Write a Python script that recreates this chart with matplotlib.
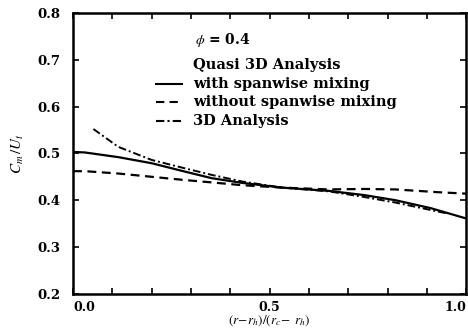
import numpy as np
import matplotlib
matplotlib.use("Agg")
import matplotlib.pyplot as plt
from matplotlib.ticker import MultipleLocator

plt.rcParams['font.family'] = ['DejaVu Serif']
plt.rcParams['mathtext.fontset'] = 'stix'

# with spanwise mixing (solid)
x_with = [0.0, 0.03, 0.115, 0.20, 0.285, 0.353, 0.43, 0.53, 0.65, 0.74, 0.82, 0.91, 1.0]
y_with = [0.503, 0.502, 0.492, 0.479, 0.461, 0.447, 0.437, 0.427, 0.420, 0.411, 0.400, 0.383, 0.361]

# without spanwise mixing (dashed)
x_without = [0.0, 0.03, 0.115, 0.20, 0.285, 0.353, 0.43, 0.53, 0.65, 0.74, 0.82, 0.93, 1.0]
y_without = [0.462, 0.462, 0.457, 0.450, 0.443, 0.438, 0.432, 0.427, 0.423, 0.424, 0.423, 0.417, 0.414]

# 3D analysis (dash-dot)
x_3d = [0.052, 0.115, 0.20, 0.285, 0.353, 0.43, 0.53, 0.65, 0.74, 0.82, 0.91, 0.95]
y_3d = [0.552, 0.514, 0.486, 0.468, 0.454, 0.440, 0.427, 0.419, 0.407, 0.395, 0.379, 0.372]

fig = plt.figure(figsize=(4.68, 3.32), dpi=100)
ax = fig.add_axes([0.156, 0.115, 0.84, 0.846])

ax.plot(x_with, y_with, color='black', lw=1.6, ls='-')
ax.plot(x_without, y_without, color='black', lw=1.6, ls=(0, (4, 2.5)))
ax.plot(x_3d, y_3d, color='black', lw=1.4, ls=(0, (4, 1.5, 1, 1.5)))

ax.set_xlim(0, 1.0)
ax.set_ylim(0.2, 0.8)
ax.xaxis.set_minor_locator(MultipleLocator(0.1))
ax.tick_params(which='both', direction='in', top=True, right=True, width=1.2, length=4)
ax.tick_params(axis='x', labelsize=9, pad=5)
ax.tick_params(axis='y', labelsize=9.5, pad=9)
ax.set_xticks([0.0, 0.5, 1.0])
ax.set_xticklabels(['0.0', '0.5', '1.0'], fontweight='bold')
ax.set_yticks(np.arange(0.2, 0.81, 0.1))
ax.set_yticklabels(['0.2', '0.3', '0.4', '0.5', '0.6', '0.7', '0.8'], fontweight='bold')
labels = ax.get_xticklabels()
labels[0].set_ha('left')
labels[2].set_ha('right')
for s in ax.spines.values():
    s.set_linewidth(1.8)

ax.set_xlabel(r'$(r\!-\!r_h)/(r_c\!-\;r_h)$', fontsize=9.5, labelpad=0)
ax.set_ylabel(r'$C_m\,/U_t$', fontsize=11, labelpad=8)

ax.text(0.31, 0.742, r'$\phi$ = 0.4', fontsize=10, fontweight='bold', va='center')
ax.text(0.305, 0.689, 'Quasi 3D Analysis', fontsize=10.5, fontweight='bold', va='center')
leg_txt = ['with spanwise mixing', 'without spanwise mixing', '3D Analysis']
leg_ls = ['-', (0, (4, 2.5)), (0, (4, 1.5, 1, 1.5))]
leg_y = [0.648, 0.610, 0.569]
for t, s, yy in zip(leg_txt, leg_ls, leg_y):
    ax.plot([0.21, 0.278], [yy, yy], color='black', lw=1.5, ls=s)
    ax.text(0.305, yy, t, fontsize=10.5, fontweight='bold', va='center')

fig.savefig('out.png', dpi=100)
